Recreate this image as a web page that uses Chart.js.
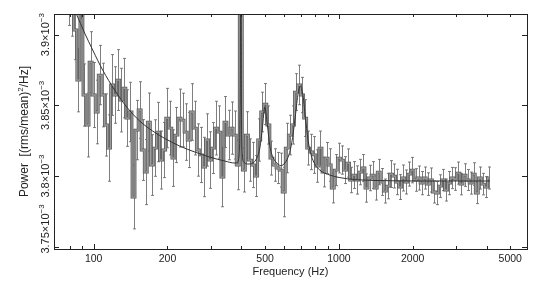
<!DOCTYPE html>
<html>
<head>
<meta charset="utf-8">
<script src="https://cdn.jsdelivr.net/npm/chart.js@4.4.1/dist/chart.umd.min.js"></script>
<style>
  body { margin: 0; background: #fff; }
  canvas { display: block; }
</style>
</head>
<body>
<canvas id="psd" width="542" height="291"></canvas>
<script>
// bin centre frequencies (Hz)
const freqs = [
  79.43, 81.75, 84.14, 86.60, 89.13, 91.73, 94.41, 97.16,
  100.0, 102.9, 105.9, 109.0, 112.2, 115.5, 118.9, 122.3, 125.9, 129.6,
  133.4, 137.3, 141.3, 145.4, 149.6, 154.0, 158.5, 163.1, 167.9, 172.8,
  177.8, 183.0, 188.4, 193.9, 199.5, 205.4, 211.4, 217.5, 223.9, 230.4,
  237.1, 244.1, 251.2, 258.5, 266.1, 273.8, 281.8, 290.1, 298.5, 307.3,
  316.2, 325.5, 335.0, 344.8, 354.8, 365.2, 375.8, 386.8, 398.1, 409.7,
  421.7, 434.0, 446.7, 459.7, 473.2, 487.0, 501.2, 515.8, 530.9, 546.4,
  562.3, 578.8, 595.7, 613.1, 631.0, 649.4, 668.3, 687.9, 708.0, 728.6,
  749.9, 771.8, 794.3, 817.5, 841.4, 866.0, 891.3, 917.3, 944.1, 971.6,
  1000, 1029, 1059, 1090, 1122, 1155, 1189, 1223, 1259, 1296,
  1334, 1372, 1413, 1454, 1496, 1540, 1585, 1631, 1679, 1728,
  1778, 1830, 1884, 1939, 1995, 2054, 2113, 2175, 2239, 2304,
  2371, 2441, 2512, 2585, 2661, 2738, 2818, 2901, 2985, 3073,
  3162, 3255, 3350, 3447, 3548, 3652, 3758, 3868, 3981, 4097
];

// power, in units of 10^-3 (rms/mean)^2/Hz
const power = [
  3.9280, 3.9209, 3.9033, 3.8679, 3.9330, 3.8573, 3.8361, 3.8806,
  3.8573, 3.8453, 3.8714, 3.8573, 3.8361, 3.8198, 3.8644, 3.8573, 3.8679, 3.8537,
  3.8622, 3.8410, 3.8453, 3.7851, 3.8325, 3.8467, 3.8184, 3.8028, 3.8382, 3.8078,
  3.8198, 3.8311, 3.8113, 3.8184, 3.8410, 3.8339, 3.8127, 3.8290, 3.8410, 3.8396,
  3.8311, 3.8255, 3.8453, 3.8339, 3.8184, 3.8149, 3.8064, 3.8255, 3.8113, 3.8198,
  3.8339, 3.8311, 3.7993, 3.8382, 3.8290, 3.8339, 3.8290, 3.8078, 4.2000, 3.8042,
  3.8290, 3.8113, 3.8078, 3.8000, 3.8255, 3.8453, 3.8509, 3.8361, 3.8127, 3.8078,
  3.8057, 3.8042, 3.7887, 3.8198, 3.8290, 3.8361, 3.8594, 3.8644, 3.8573, 3.8410,
  3.8198, 3.8170, 3.8149, 3.8071, 3.8198, 3.8028, 3.8127, 3.8078, 3.7915, 3.8042,
  3.8127, 3.8113, 3.8042, 3.8092, 3.7972, 3.8007, 3.7972, 3.8028, 3.8057, 3.7915,
  3.7986, 3.8007, 3.7915, 3.8028, 3.7958, 3.7894, 3.7929, 3.8014, 3.8000, 3.7958,
  3.7922, 3.7986, 3.7958, 3.8014, 3.8042, 3.7972, 3.7986, 3.7950, 3.7986, 3.7943,
  3.7972, 3.7887, 3.7880, 3.7929, 3.7972, 3.7901, 3.7950, 3.7986, 3.7979, 3.8021,
  3.7943, 3.8007, 3.7972, 3.7950, 3.8014, 3.7880, 3.7986, 3.7943, 3.7922, 3.7986
];

const powerErr = [
  0.0215, 0.0220, 0.0210, 0.0225, 0.0215, 0.0220, 0.0226, 0.0215, 0.0230, 0.0225,
  0.0210, 0.0225, 0.0220, 0.0235, 0.0215, 0.0200, 0.0215, 0.0225, 0.0210, 0.0200,
  0.0210, 0.0225, 0.0210, 0.0200, 0.0215, 0.0230, 0.0205, 0.0215, 0.0200, 0.0210,
  0.0205, 0.0195, 0.0210, 0.0190, 0.0200, 0.0195, 0.0205, 0.0190, 0.0200, 0.0195,
  0.0200, 0.0190, 0.0185, 0.0195, 0.0210, 0.0185, 0.0200, 0.0180, 0.0190, 0.0185,
  0.0210, 0.0180, 0.0175, 0.0185, 0.0170, 0.0175, 0.0300,
  0.0155, 0.0165, 0.0150, 0.0160, 0.0145, 0.0150, 0.0140, 0.0145, 0.0135, 0.0120,
  0.0115, 0.0110, 0.0120, 0.0175,
  0.0175, 0.0140, 0.0135, 0.0130, 0.0140, 0.0125, 0.0130, 0.0120, 0.0125, 0.0130,
  0.0115, 0.0120, 0.0105, 0.0110, 0.0115, 0.0105, 0.0110, 0.0105,
  0.0100, 0.0095, 0.0100, 0.0090, 0.0095, 0.0100, 0.0090, 0.0095, 0.0100, 0.0090,
  0.0095, 0.0085, 0.0090, 0.0095, 0.0085, 0.0090, 0.0095, 0.0085, 0.0090, 0.0088,
  0.0092, 0.0085,
  0.0085, 0.0090, 0.0080, 0.0085, 0.0082, 0.0078, 0.0080, 0.0085, 0.0078, 0.0082,
  0.0080, 0.0075, 0.0078, 0.0082, 0.0075, 0.0080, 0.0078, 0.0076, 0.0080, 0.0074,
  0.0078, 0.0080, 0.0075, 0.0078, 0.0076, 0.0074, 0.0078
];

// fitted model curve
const modelFreq = [
  79.8, 85.0, 91.9, 99.1, 108.8, 121.8, 136.4, 154.1, 174.1, 196.8,
  224.4, 258.4, 297.5, 342.5, 376.3, 385, 392, 395, 397, 398.1,
  399, 401, 404, 409.5, 425.2, 445.7, 462.8, 476.1, 487.4, 498.9,
  510.8, 523.0, 537.9, 558.5, 579.9, 602.1, 625.2, 643.1, 661.4, 680.4,
  696.6, 713.1, 733.5, 754.5, 783.4, 836.5, 919.1, 1009, 1162, 1470,
  2141, 4133
];
const modelPower = [
  3.9245, 3.9146, 3.9011, 3.8891, 3.8750, 3.8608, 3.8488, 3.8389, 3.8318, 3.8262,
  3.8212, 3.8170, 3.8134, 3.8106, 3.8092, 3.8095, 3.8150, 3.8400, 3.9500, 4.3000,
  3.9500, 3.8400, 3.8150, 3.8099, 3.8085, 3.8092, 3.8127, 3.8198, 3.8339, 3.8488,
  3.8361, 3.8212, 3.8134, 3.8092, 3.8074, 3.8092, 3.8149, 3.8240, 3.8396, 3.8573,
  3.8636, 3.8573, 3.8382, 3.8219, 3.8113, 3.8042, 3.8007, 3.7989, 3.7975, 3.7968,
  3.7965, 3.7965
];

const xMajorTicks = [100, 1000];
const xMinorTicks = [80, 90, 200, 300, 400, 500, 600, 700, 800, 900, 2000, 3000, 4000, 5000];
const xTickLabels = [100, 200, 500, 1000, 2000, 5000];
const yTicks = [3.75, 3.8, 3.85, 3.9];
const yTickLabels = ['3.75', '3.8', '3.85', '3.9'];

const points = freqs.map((f, i) => ({ x: f, y: power[i] }));
const modelPoints = modelFreq.map((f, i) => ({ x: f, y: modelPower[i] }));

const FONT = '"Liberation Sans", Arial, sans-serif';

function drawSupText(ctx, base, sup, size, supSize, cx, baseline) {
    // text centred on cx along the (rotated) x axis
    ctx.font = size + 'px ' + FONT;
    const w1 = ctx.measureText(base).width;
    ctx.font = supSize + 'px ' + FONT;
    const w2 = ctx.measureText(sup).width;
    const start = cx - (w1 + w2) / 2;
    ctx.font = size + 'px ' + FONT;
    ctx.fillText(base, start, baseline);
    ctx.font = supSize + 'px ' + FONT;
    ctx.fillText(sup, start + w1, baseline - size * 0.45);
    return w1 + w2;
}

const axesPlugin = {
    id: 'axesPlugin',
    beforeDatasetsDraw(chart) {
        const ctx = chart.ctx;
        const a = chart.chartArea;
        const xs = chart.scales.x, ys = chart.scales.y;
        ctx.save();
        ctx.beginPath();
        ctx.rect(a.left, a.top, a.right - a.left, a.bottom - a.top);
        ctx.clip();
        ctx.strokeStyle = 'rgba(95,95,95,0.8)';
        ctx.lineWidth = 1;
        freqs.forEach((f, i) => {
            const x = Math.round(xs.getPixelForValue(f)) + 0.5;
            const y1 = ys.getPixelForValue(power[i] + powerErr[i]);
            const y2 = ys.getPixelForValue(power[i] - powerErr[i]);
            ctx.beginPath();
            ctx.moveTo(x, y1);
            ctx.lineTo(x, y2);
            ctx.moveTo(x - 1.5, y1);
            ctx.lineTo(x + 1.5, y1);
            ctx.moveTo(x - 1.5, y2);
            ctx.lineTo(x + 1.5, y2);
            ctx.stroke();
        });
        ctx.restore();
    },
    afterDraw(chart) {
        const ctx = chart.ctx;
        const a = chart.chartArea;
        const xs = chart.scales.x, ys = chart.scales.y;
        ctx.save();
        ctx.strokeStyle = '#222';
        ctx.lineWidth = 1;
        ctx.strokeRect(a.left + 0.5, a.top + 0.5, a.right - a.left, a.bottom - a.top);

        ctx.beginPath();
        const tickX = (v, len) => {
            const x = Math.round(xs.getPixelForValue(v)) + 0.5;
            ctx.moveTo(x, a.bottom);
            ctx.lineTo(x, a.bottom - len);
            ctx.moveTo(x, a.top);
            ctx.lineTo(x, a.top + len);
        };
        xMajorTicks.forEach(v => tickX(v, 5));
        xMinorTicks.forEach(v => tickX(v, 3));
        yTicks.forEach(v => {
            const y = Math.round(ys.getPixelForValue(v)) + 0.5;
            ctx.moveTo(a.left, y);
            ctx.lineTo(a.left + 5, y);
            ctx.moveTo(a.right, y);
            ctx.lineTo(a.right - 5, y);
        });
        ctx.stroke();

        ctx.fillStyle = '#222';
        ctx.textBaseline = 'middle';
        ctx.textAlign = 'center';
        ctx.font = '10.5px ' + FONT;
        xTickLabels.forEach(v => {
            ctx.fillText(String(v), xs.getPixelForValue(v), a.bottom + 10);
        });
        ctx.font = '11px ' + FONT;
        ctx.fillText('Frequency (Hz)', (a.left + a.right) / 2, a.bottom + 23);

        // rotated y tick labels
        ctx.textAlign = 'left';
        ctx.textBaseline = 'alphabetic';
        yTicks.forEach((v, i) => {
            let yc = ys.getPixelForValue(v);
            ctx.font = '11px ' + FONT;
            const w = ctx.measureText(yTickLabels[i] + '\u00d710').width + 10;
            if (yc + w / 2 > a.bottom + 5) yc = a.bottom + 5 - w / 2;
            ctx.save();
            ctx.translate(a.left - 5, yc);
            ctx.rotate(-Math.PI / 2);
            drawSupText(ctx, yTickLabels[i] + '\u00d710', '\u22123', 11, 8, 0, 0);
            ctx.restore();
        });

        // y axis title
        ctx.save();
        ctx.translate(28, (a.top + a.bottom) / 2);
        ctx.rotate(-Math.PI / 2);
        const p1 = 'Power  [(rms/mean)', p2 = '2', p3 = '/Hz]';
        ctx.font = '12px ' + FONT;
        const w1 = ctx.measureText(p1).width, w3 = ctx.measureText(p3).width;
        ctx.font = '8px ' + FONT;
        const w2 = ctx.measureText(p2).width;
        let sx = -(w1 + w2 + w3) / 2;
        ctx.font = '12px ' + FONT;
        ctx.fillText(p1, sx, 0);
        ctx.font = '8px ' + FONT;
        ctx.fillText(p2, sx + w1, -5);
        ctx.font = '12px ' + FONT;
        ctx.fillText(p3, sx + w1 + w2, 0);
        ctx.restore();
        ctx.restore();
    }
};

new Chart(document.getElementById('psd'), {
    type: 'line',
    data: {
        datasets: [{
            label: 'model',
            data: modelPoints,
            borderColor: '#333',
            borderWidth: 1,
            pointRadius: 0,
            cubicInterpolationMode: 'monotone',
            order: 0
        }, {
            label: 'data',
            data: points,
            stepped: 'middle',
            borderColor: '#9c9c9c',
            borderWidth: 1.3,
            pointRadius: 0,
            order: 1
        }, {
            label: 'data edge',
            data: points,
            stepped: 'middle',
            borderColor: '#5a5a5a',
            borderWidth: 2.8,
            pointRadius: 0,
            order: 2
        }]
    },
    options: {
        responsive: false,
        animation: false,
        layout: { padding: { left: 54, top: 14, right: 15, bottom: 42 } },
        plugins: { legend: { display: false }, tooltip: { enabled: false } },
        scales: {
            x: { type: 'logarithmic', min: 68.9, max: 5850, display: false },
            y: { type: 'linear', min: 3.7484, max: 3.9146, display: false }
        }
    },
    plugins: [axesPlugin]
});
</script>
</body>
</html>
